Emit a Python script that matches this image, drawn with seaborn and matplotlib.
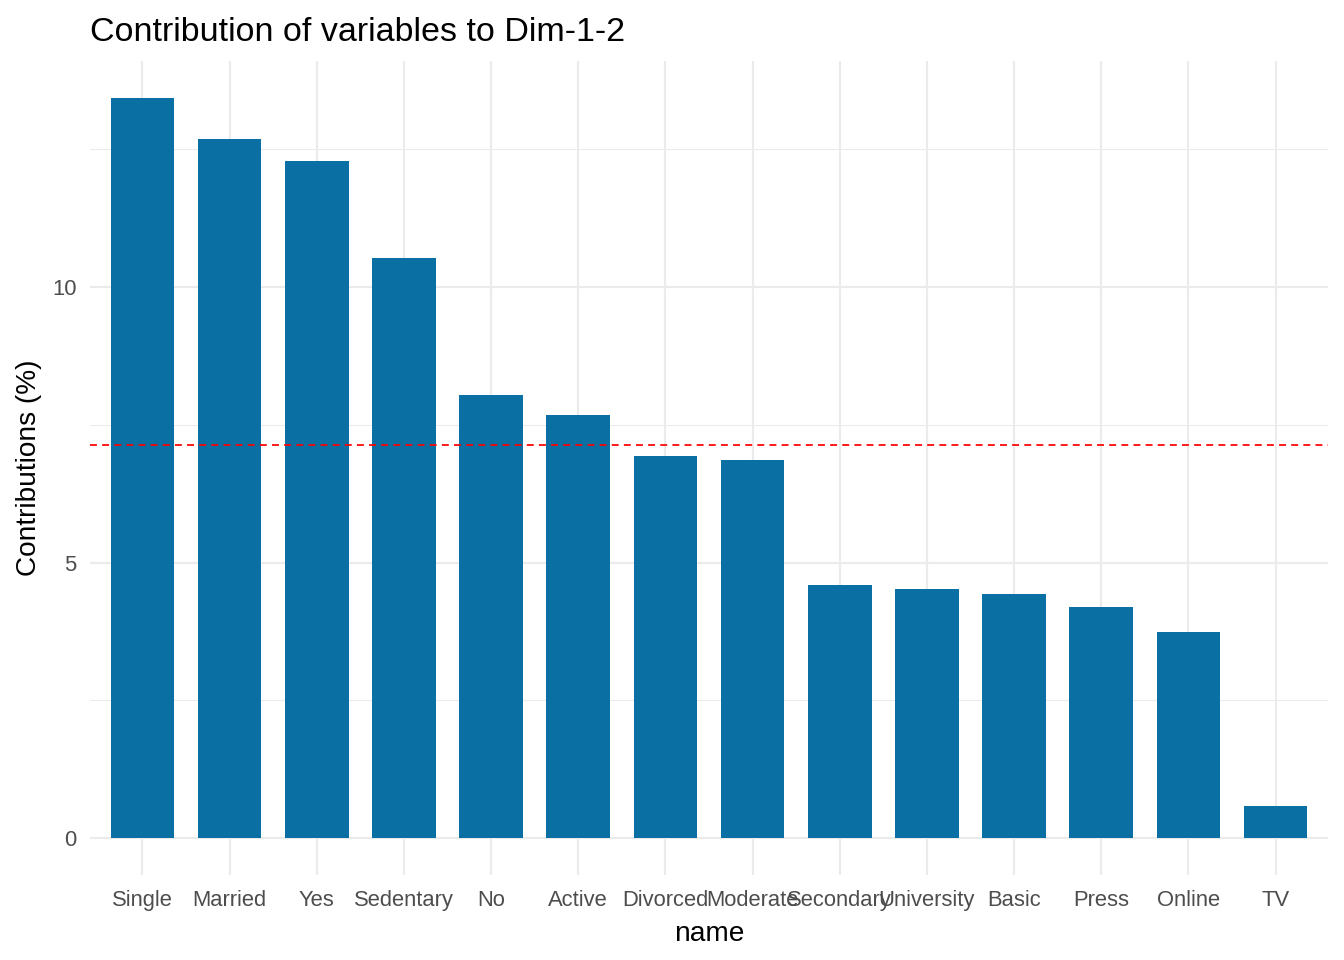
import matplotlib
matplotlib.use("Agg")
import matplotlib.pyplot as plt
import seaborn as sns
import pandas as pd

# contributions
names = ["Single", "Married", "Yes", "Sedentary", "No", "Active", "Divorced",
         "Moderate", "Secondary", "University", "Basic", "Press", "Online", "TV"]
contrib = [13.43, 12.69, 12.29, 10.53, 8.04, 7.68, 6.93,
           6.86, 4.59, 4.52, 4.43, 4.19, 3.74, 0.58]
expected = 7.14

df = pd.DataFrame({"name": names, "contrib": contrib})

sns.set_theme(style="white")
plt.rcParams["font.family"] = ["Liberation Sans", "DejaVu Sans"]

fig = plt.figure(figsize=(14, 10), dpi=96)
ax = fig.add_axes([0.067, 0.0885, 0.921, 0.848])

grid = "#EBEBEB"
for i in range(len(names)):
    ax.axvline(i, color=grid, lw=1.6, zorder=0)
for v in [0, 5, 10]:
    ax.axhline(v, color=grid, lw=1.6, zorder=0)
for v in [2.5, 7.5, 12.5]:
    ax.axhline(v, color=grid, lw=0.8, zorder=0)

sns.barplot(data=df, x="name", y="contrib", color="#0A6FA2", saturation=1,
            width=0.73, linewidth=0, edgecolor="none", ax=ax, zorder=2)
ax.axhline(expected, color="#FF0000", lw=1.3, ls=(0, (4, 3)), zorder=3)

ax.set_xlim(-0.6, len(names) - 0.4)
ax.set_ylim(-0.67, 14.1)
ax.set_yticks([0, 5, 10])
for s in ax.spines.values():
    s.set_visible(False)
ax.tick_params(axis="both", length=0, labelsize=16.5, labelcolor="#4D4D4D")
ax.tick_params(axis="x", pad=11)
ax.tick_params(axis="y", pad=10)
ax.set_xlabel("name", fontsize=21, color="black", labelpad=8)
ax.set_ylabel("Contributions (%)", fontsize=21, color="black", labelpad=8)
ax.set_title("Contribution of variables to Dim-1-2", fontsize=25.5, loc="left",
             color="black", pad=15)

fig.savefig("out.png", dpi=96)
